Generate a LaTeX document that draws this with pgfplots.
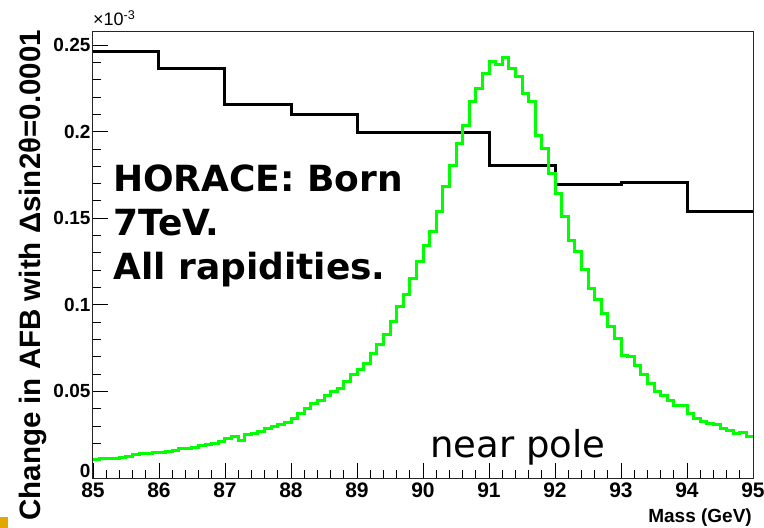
\documentclass[border=0pt]{standalone}
\usepackage{pgfplots}
\pgfplotsset{compat=1.18}
\usepackage{fontspec}
\setmainfont{Liberation Sans}
\newfontfamily\verd{DejaVu Sans}
\definecolor{rootgreen}{RGB}{0,255,0}
\definecolor{slideorange}{RGB}{224,168,0}

\pgfplotstableread{
x y
85.0 0.246
86.0 0.2366
87.0 0.2159
88.0 0.2098
89.0 0.1993
90.0 0.1993
91.0 0.1805
92.0 0.1695
93.0 0.1707
94.0 0.1539
95.0 0.1539
}\blackhist

\pgfplotstableread{
x y
85.0 0.0108
85.1 0.0110
85.2 0.0112
85.3 0.0115
85.4 0.0119
85.5 0.0123
85.6 0.0133
85.7 0.0139
85.8 0.0142
85.9 0.0148
86.0 0.0150
86.1 0.0152
86.2 0.0158
86.3 0.0169
86.4 0.0173
86.5 0.0177
86.6 0.0185
86.7 0.0192
86.8 0.0200
86.9 0.0208
87.0 0.0229
87.1 0.0239
87.2 0.0219
87.3 0.0254
87.4 0.0258
87.5 0.0267
87.6 0.0283
87.7 0.0296
87.8 0.0310
87.9 0.0322
88.0 0.0345
88.1 0.0375
88.2 0.0400
88.3 0.0431
88.4 0.0450
88.5 0.0479
88.6 0.0498
88.7 0.0518
88.8 0.0556
88.9 0.0595
89.0 0.0624
89.1 0.0662
89.2 0.0720
89.3 0.0768
89.4 0.0826
89.5 0.0903
89.6 0.0989
89.7 0.1057
89.8 0.1153
89.9 0.1249
90.0 0.1345
90.1 0.1422
90.2 0.1538
90.3 0.1682
90.4 0.1807
90.5 0.1932
90.6 0.2038
90.7 0.2173
90.8 0.2250
90.9 0.2337
91.0 0.2404
91.1 0.2390
91.2 0.2429
91.3 0.2365
91.4 0.2317
91.5 0.2221
91.6 0.2173
91.7 0.1980
91.8 0.1904
91.9 0.1759
92.0 0.1644
92.1 0.1509
92.2 0.1374
92.3 0.1307
92.4 0.1201
92.5 0.1095
92.6 0.1028
92.7 0.0951
92.8 0.0874
92.9 0.0807
93.0 0.0710
93.1 0.0700
93.2 0.0652
93.3 0.0595
93.4 0.0547
93.5 0.0498
93.6 0.0479
93.7 0.0450
93.8 0.0416
93.9 0.0421
94.0 0.0373
94.1 0.0345
94.2 0.0325
94.3 0.0316
94.4 0.0306
94.5 0.0287
94.6 0.0277
94.7 0.0258
94.8 0.0262
94.9 0.0238
95.0 0.0238
}\greenhist

\begin{document}
\begin{tikzpicture}
\path[use as bounding box] (-93pt,-50pt) rectangle (671pt,478pt);
\begin{axis}[
  at={(0pt,0pt)}, anchor=south west,
  scale only axis, width=660pt, height=446pt,
  xmin=85, xmax=95, ymin=0, ymax=0.2575,
  xtick={85,86,...,95},
  xticklabels={85,86,87,88,89,90,91,92,93,94,95},
  minor x tick num=4,
  ytick={0,0.05,0.1,0.15,0.2,0.25},
  yticklabels={\raisebox{15pt}{0},0.05,0.1,0.15,0.2,0.25},
  minor y tick num=4,
  tick pos=left,
  tick align=inside,
  major tick length=15pt,
  minor tick length=8pt,
  tick style={black, line width=0.8pt},
  axis line style={line width=1pt, black!85},
  xticklabel style={font=\bfseries\fontsize{21}{21}\selectfont, yshift=-1pt},
  yticklabel style={font=\bfseries\fontsize{19}{19}\selectfont, xshift=1pt},
  clip=true,
]
\addplot[const plot mark left, black, line width=3pt] table[x=x,y=y]{\blackhist};
\addplot[const plot mark left, rootgreen, line width=3pt] table[x=x,y=y]{\greenhist};
\end{axis}
% axis titles and annotations
\node[rotate=90, anchor=base east, font=\bfseries\fontsize{29.5}{29.5}\selectfont, inner sep=0pt]
  at (-52pt,448pt) {Change in AFB with Δsin2θ=0.0001};
\node[anchor=base west, font=\fontsize{18}{18}\selectfont, inner sep=0pt]
  at (0pt,452pt) {×10\textsuperscript{-3}};
\node[anchor=base east, font=\bfseries\fontsize{19}{19}\selectfont, inner sep=0pt]
  at (659pt,-44pt) {Mass (GeV)};
\node[anchor=base west, font=\verd\bfseries\fontsize{36}{36}\selectfont, inner sep=0pt]
  at (20pt,286pt) {HORACE: Born};
\node[anchor=base west, font=\verd\bfseries\fontsize{36}{36}\selectfont, inner sep=0pt]
  at (20pt,242pt) {7TeV.};
\node[anchor=base west, font=\verd\bfseries\fontsize{36}{36}\selectfont, inner sep=0pt]
  at (20pt,198pt) {All rapidities.};
\node[anchor=base west, font=\verd\fontsize{37}{37}\selectfont, inner sep=0pt]
  at (337pt,20pt) {near pole};
\fill[slideorange] (-93pt,-50pt) rectangle (-85pt,-39pt);
\end{tikzpicture}
\end{document}
